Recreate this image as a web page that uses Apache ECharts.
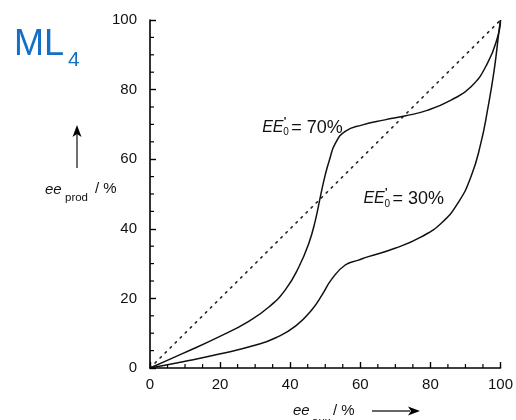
<!DOCTYPE html>
<html><head><meta charset="utf-8">
<script src="https://cdn.jsdelivr.net/npm/echarts@6/dist/echarts.min.js"></script>
<style>html,body{margin:0;padding:0;background:#fff}#c{width:516px;height:420px}</style>
</head><body><div id="c"></div>
<script>
// data (x = ee_aux %, y = ee_prod %)
const xTicks = [0, 20, 40, 60, 80, 100];
const yTicks = [0, 20, 40, 60, 80, 100];
const minorTicks = [5, 10, 15, 25, 30, 35, 45, 50, 55, 65, 70, 75, 85, 90, 95];
const ee70 = [[0,0],[9.4,4.2],[19.8,9.0],[28.3,13.5],[34.0,17.6],[38.7,22.6],[42.5,29.1],[45.3,35.8],[47.2,42.5],[48.6,49.2],[50.0,55.5],[51.2,59.8],[52.9,64.6],[55.7,68.0],[60.4,69.8],[67.0,71.3],[72.7,72.4],[79.3,74.1],[85.9,77.0],[91.6,80.8],[96.3,87.6],[99.2,95.2],[100,100]];
const ee30 = [[0,0],[9.4,1.8],[19.8,4.0],[30.2,6.6],[35.9,8.7],[41.6,12.1],[46.3,16.9],[49.1,21.0],[51.9,25.6],[55.7,29.6],[59.5,31.0],[62.3,32.0],[69.9,34.4],[77.4,37.7],[83.1,41.6],[87.8,47.3],[91.6,55.0],[94.4,64.6],[96.3,74.1],[98.2,85.6],[99.6,97.1],[100,100]];
const diagonal = [[0,0],[100,100]];
const labels = [
  {name: '70%', x: 32.0, y: 69.1},
  {name: '30%', x: 60.9, y: 48.6}
];

const chart = echarts.init(document.getElementById('c'), null, {renderer: 'canvas'});
const F = 'Liberation Sans, Arial, Helvetica, sans-serif';
const major = (margin) => ({
  type: 'value', min: 0, max: 100, interval: 20,
  axisLine: {show: true, onZero: false, lineStyle: {color: '#000', width: 1.6}},
  axisTick: {show: true, inside: true, length: 6, lineStyle: {color: '#000', width: 1.4}},
  splitLine: {show: false},
  axisLabel: {color: '#111', fontSize: 15, fontFamily: F, margin: margin}
});
const lineSeries = (name, data) => ({
  name, type: 'line', data, smooth: 0.5, symbol: 'none',
  lineStyle: {color: '#111', width: 1.5}, silent: true, z: 3
});
chart.setOption({
  animation: false,
  backgroundColor: '#fff',
  grid: {left: 150, right: 13, top: 20, bottom: 52, containLabel: false},
  xAxis: major(9),
  yAxis: major(13),
  series: [
    {name: 'diag', type: 'line', data: diagonal, symbol: 'none', silent: true,
     lineStyle: {color: '#222', width: 1.6, type: [1.6, 5.5], cap: 'round'}},
    lineSeries('ee70', ee70),
    lineSeries('ee30', ee30)
  ]
});

function eeLabel(name, x, y) {
  const p = chart.convertToPixel({xAxisIndex: 0, yAxisIndex: 0}, [x, y]);
  return {
    type: 'group', x: p[0], y: p[1],
    children: [
      {type: 'text', x: 0, y: 0, style: {text: 'EE', font: 'italic 16px ' + F, fill: '#111', verticalAlign: 'middle'}},
      {type: 'text', x: 21.5, y: -6, style: {text: "'", font: 'bold 11px ' + F, fill: '#111', verticalAlign: 'middle'}},
      {type: 'text', x: 21, y: 5, style: {text: '0', font: '10px ' + F, fill: '#111', verticalAlign: 'middle'}},
      {type: 'text', x: 29, y: 0, style: {text: '= ' + name, font: '18px ' + F, fill: '#111', verticalAlign: 'middle'}}
    ]
  };
}

// minor ticks positioned through the axis scales
const tickEls = [];
minorTicks.forEach(v => {
  const px = chart.convertToPixel({xAxisIndex: 0, yAxisIndex: 0}, [v, 0]);
  const py = chart.convertToPixel({xAxisIndex: 0, yAxisIndex: 0}, [0, v]);
  const st = {stroke: '#000', lineWidth: 1.2};
  tickEls.push({type: 'line', silent: true, shape: {x1: px[0], y1: px[1], x2: px[0], y2: px[1] - 4}, style: st});
  tickEls.push({type: 'line', silent: true, shape: {x1: py[0], y1: py[1], x2: py[0] + 4, y2: py[1]}, style: st});
});

chart.setOption({
  graphic: [
    {type: 'text', x: 14, y: 45, style: {text: 'ML', font: '36px ' + F, fill: '#1470c4', verticalAlign: 'middle'}},
    {type: 'text', x: 68, y: 60, style: {text: '4', font: '21px ' + F, fill: '#1470c4', verticalAlign: 'middle'}},
    // y axis title
    {type: 'line', shape: {x1: 77, y1: 168, x2: 77, y2: 134}, style: {stroke: '#333', lineWidth: 1.4}},
    {type: 'polygon', shape: {points: [[77, 125], [72.5, 137], [77, 134], [81.5, 137]]}, style: {fill: '#000'}},
    {type: 'text', x: 45, y: 190, style: {text: 'ee', font: 'italic 15px ' + F, fill: '#111', verticalAlign: 'middle'}},
    {type: 'text', x: 65, y: 198, style: {text: 'prod', font: '11.5px ' + F, fill: '#111', verticalAlign: 'middle'}},
    {type: 'text', x: 95, y: 189, style: {text: '/ %', font: '15px ' + F, fill: '#111', verticalAlign: 'middle'}},
    // x axis title
    {type: 'text', x: 293, y: 411, style: {text: 'ee', font: 'italic 15px ' + F, fill: '#111', verticalAlign: 'middle'}},
    {type: 'text', x: 312, y: 422, style: {text: 'aux', font: '11.5px ' + F, fill: '#111', verticalAlign: 'middle'}},
    {type: 'text', x: 333, y: 411, style: {text: '/ %', font: '15px ' + F, fill: '#111', verticalAlign: 'middle'}},
    {type: 'line', shape: {x1: 372, y1: 411, x2: 410, y2: 411}, style: {stroke: '#333', lineWidth: 1.4}},
    {type: 'polygon', shape: {points: [[420, 411], [408, 406.5], [411, 411], [408, 415.5]]}, style: {fill: '#000'}},
    eeLabel(labels[0].name, labels[0].x, labels[0].y),
    eeLabel(labels[1].name, labels[1].x, labels[1].y)
  ].concat(tickEls)
});
</script></body></html>
